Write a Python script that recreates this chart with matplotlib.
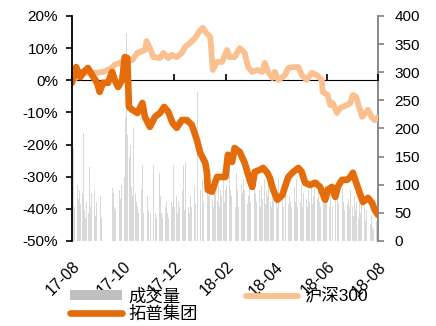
import matplotlib
matplotlib.use("Agg")
import matplotlib.pyplot as plt
from matplotlib.patches import Patch
from matplotlib.lines import Line2D
import pandas as pd

plt.rcParams['font.family'] = ['Liberation Sans', 'Noto Sans CJK SC']
plt.rcParams['axes.unicode_minus'] = True

# ---------------- data ----------------
base_date = "2017-08-01"

# 拓普集团 cumulative return (%), x as day offsets from base_date
tp_days = [0, 5, 10, 14, 19, 24, 30, 33, 37, 43, 48, 51, 55, 60, 63, 66, 67, 68, 72, 78,
           84, 87, 93, 99, 105, 110, 115, 120, 125, 131, 137, 143, 149, 153, 159, 161, 162,
           167, 173, 183, 186, 191, 194, 200, 206, 212, 215, 218, 224, 228, 233, 236, 240,
           245, 251, 254, 258, 264, 270, 274, 278, 284, 290, 296, 302, 305, 310, 314, 317,
           322, 328, 332, 335, 339, 344, 347, 353, 358, 361, 365]
tp_pct = [-0.8, 4.1, 1.0, 2.6, 3.8, 1.6, -0.8, -3.6, -0.8, -0.8, 2.6, 0.1, -2.1, 0.1, 7.2,
          6.9, -0.8, -8.3, -9.2, -10.2, -7.1, -11.4, -14.5, -11.4, -10.2, -8.3, -9.9, -13.3,
          -14.8, -12.4, -12.4, -13.9, -18.6, -22.6, -25.7, -28.8, -34.1, -34.7, -30.1, -30.1,
          -23.2, -25.4, -21.1, -22.3, -25.7, -31.0, -33.2, -28.5, -27.9, -27.3, -28.8, -30.4,
          -34.1, -37.2, -35.7, -33.2, -30.1, -28.5, -27.3, -28.5, -31.9, -32.6, -31.9, -33.2,
          -37.2, -34.1, -33.2, -36.3, -33.2, -31.0, -31.0, -30.1, -28.8, -31.9, -35.7, -37.9,
          -36.6, -38.2, -40.3, -41.9]

# 沪深300 cumulative return (%)
hs_days = [0, 14, 21, 30, 37, 45, 51, 57, 63, 72, 78, 81, 87, 89, 93, 97, 105, 109, 115,
           119, 125, 131, 135, 141, 147, 153, 156, 161, 165, 168, 173, 179, 185, 188, 194,
           200, 206, 210, 215, 221, 227, 230, 234, 239, 242, 246, 251, 254, 258, 264, 270,
           274, 280, 286, 292, 298, 299, 305, 308, 311, 316, 320, 323, 328, 332, 335, 339,
           341, 346, 350, 353, 358, 361, 365]
hs_pct = [0.1, 2.0, 2.6, 2.3, 2.6, 3.5, 4.8, 5.4, 6.0, 6.3, 8.5, 8.8, 9.4, 12.2, 10.0, 7.2,
          6.9, 8.5, 6.9, 7.9, 7.2, 8.5, 10.4, 11.6, 13.2, 15.6, 16.3, 14.4, 13.5, 3.2, 5.7,
          5.7, 9.4, 7.2, 7.2, 10.0, 8.5, 4.1, 2.6, 3.2, 2.6, 5.4, 2.6, 0.7, 2.6, 0.1, 1.0,
          1.6, 3.8, 4.1, 4.1, 1.6, 0.1, 2.3, 1.6, 0.1, -3.6, -4.6, -7.7, -7.1, -10.2, -8.6,
          -8.3, -7.7, -7.1, -4.6, -5.2, -7.1, -11.4, -10.2, -9.2, -11.7, -12.4, -11.4]

# 成交量 (daily, business days from base_date), monthly rows
volume = (
    [34, 94, 165, 60, 80, 100, 75, 90, 65, 85, 192, 55, 40, 70, 50, 131, 60, 85, 50, 90, 45, 70, 60] +
    [50, 80, 40, 0, 0, 0, 0, 0, 0, 0, 0, 94, 70, 85, 60, 55, 80, 45, 90, 75, 100] +
    [70, 114, 219, 370, 188, 150, 170, 95, 80, 200, 85, 70, 60, 50, 75, 90, 135, 50, 60, 70, 80, 55] +
    [60, 45, 50, 135, 70, 60, 50, 40, 121, 65, 80, 50, 40, 45, 60, 70, 50, 40, 65, 70, 60, 135] +
    [60, 80, 50, 70, 60, 135, 90, 135, 55, 140, 135, 60, 50, 80, 70, 60, 95, 65, 80, 100, 265] +
    [90, 100, 80, 110, 70, 60, 120, 90, 80, 100, 140, 75, 60, 110, 85, 70, 100, 60, 90, 80, 120, 70, 90] +
    [100, 60, 130, 90, 80, 110, 70, 60, 120, 90, 70, 60, 100, 85, 75, 110, 90, 65, 120, 80] +
    [95, 70, 110, 60, 120, 85, 70, 130, 90, 60, 100, 75, 110, 65, 90, 80, 120, 70, 60, 100, 85, 75] +
    [90, 60, 110, 80, 70, 100, 60, 90, 75, 110, 65, 80, 100, 70, 60, 95, 85, 70, 110, 60, 80] +
    [70, 100, 60, 85, 110, 75, 60, 90, 70, 100, 65, 80, 95, 60, 75, 110, 70, 60, 90, 80, 65, 100, 70] +
    [75, 60, 95, 70, 85, 60, 100, 70, 55, 90, 65, 80, 60, 95, 70, 55, 85, 65, 75, 60, 90] +
    [60, 45, 80, 55, 70, 40, 65, 50, 75, 45, 60, 35, 55, 40, 50, 30, 45, 25, 40, 20, 35, 15] +
    [20]
)

x_ticks = ["2017-08-01", "2017-10-01", "2017-12-01", "2018-02-01", "2018-04-01",
           "2018-06-01", "2018-08-01"]
x_tick_labels = ["17-08", "17-10", "17-12", "18-02", "18-04", "18-06", "18-08"]
left_ticks = [-50, -40, -30, -20, -10, 0, 10, 20]
right_ticks = [0, 50, 100, 150, 200, 250, 300, 350, 400]

# ---------------- plot ----------------
base = pd.Timestamp(base_date)
tp_dates = [base + pd.Timedelta(days=d) for d in tp_days]
hs_dates = [base + pd.Timedelta(days=d) for d in hs_days]
vol_dates = pd.bdate_range(base_date, periods=len(volume))

C_DARK = "#E46C0A"
C_LIGHT = "#FAC090"
C_VOL = "#D9D9D9"

fig = plt.figure(figsize=(4.36, 3.26), dpi=100)
ax = fig.add_axes([0.165, 0.261, 0.702, 0.690])
ax2 = ax.twinx()

ax2.bar(vol_dates, volume, width=0.9, color=C_VOL, linewidth=0)
ax2.set_ylim(0, 400)
ax2.set_yticks(right_ticks)

ax.plot(hs_dates, hs_pct, color=C_LIGHT, lw=4.2, solid_joinstyle='round', solid_capstyle='round')
ax.plot(tp_dates, tp_pct, color=C_DARK, lw=4.8, solid_joinstyle='round', solid_capstyle='round')
ax.set_ylim(-50, 20)
ax.set_yticks(left_ticks)
ax.set_yticklabels([f"{v}%" for v in left_ticks])

ax.set_zorder(ax2.get_zorder() + 1)
ax.patch.set_visible(False)

xt = [pd.Timestamp(t) for t in x_ticks]
ax.set_xlim(xt[0], xt[-1])
ax.set_xticks(xt)
ax.set_xticklabels(x_tick_labels, rotation=45, ha='right', va='top', rotation_mode='anchor')
ax.tick_params(axis='x', length=0, pad=13, labelsize=11.5)

# zero line axis with ticks
sec = ax.secondary_xaxis(50 / 70)
sec.set_xticks(xt)
sec.set_xticklabels([])
sec.tick_params(axis='x', direction='out', length=4, width=1.2, color='black')
sec.spines['bottom'].set_linewidth(1.5)
sec.spines['bottom'].set_color('black')

for s in ['top', 'right', 'bottom']:
    ax.spines[s].set_visible(False)
ax.spines['left'].set_linewidth(1.3)
ax.tick_params(axis='y', direction='out', length=4, width=1.2, pad=6, labelsize=11)

for s in ['top', 'left', 'bottom']:
    ax2.spines[s].set_visible(False)
ax2.spines['right'].set_color('#808080')
ax2.spines['right'].set_linewidth(1.3)
ax2.tick_params(axis='y', direction='out', length=4, width=1.2, color='#808080', pad=8, labelsize=11)

h_vol = Patch(facecolor='#BFBFBF', edgecolor='none')
h_tp = Line2D([], [], color=C_DARK, lw=4.8, solid_capstyle='round')
h_hs = Line2D([], [], color=C_LIGHT, lw=4.2, solid_capstyle='round')
common = dict(frameon=False, fontsize=12.5, handlelength=3.0, handleheight=0.55,
              handletextpad=0.35, borderpad=0, borderaxespad=0, loc='center left')
fig.legend([h_vol, h_hs], ["成交量", "沪深300"], ncol=2, columnspacing=3.8,
           bbox_to_anchor=(70 / 436, 1 - 296 / 326), **common)
fig.legend([h_tp], ["拓普集团"], bbox_to_anchor=(70 / 436, 1 - 314 / 326), **common)

fig.savefig("out.png", dpi=100)
